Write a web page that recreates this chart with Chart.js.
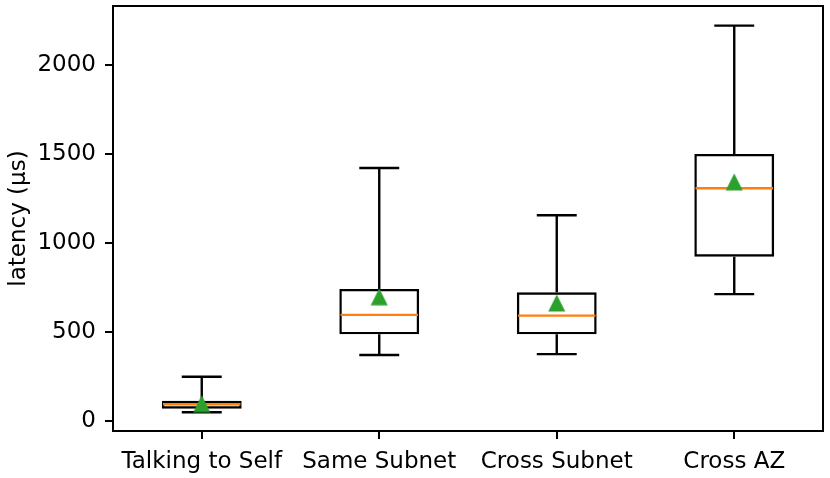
<!DOCTYPE html>
<html>
<head>
<meta charset="utf-8">
<script src="https://cdn.jsdelivr.net/npm/chart.js@4.4.1/dist/chart.umd.min.js"></script>
<style>
  body { margin: 0; background: #fff; }
  canvas { display: block; }
</style>
</head>
<body>
<canvas id="boxChart" width="830" height="478"></canvas>
<script>
// Box plot data (latency in µs)
const categories = ['Talking to Self', 'Same Subnet', 'Cross Subnet', 'Cross AZ'];
const whiskerLow = [49, 371, 376, 713];
const q1 = [69, 487, 487, 923];
const median = [94, 596, 592, 1307];
const q3 = [114, 742, 723, 1500];
const whiskerHigh = [249, 1421, 1156, 2221];
const means = [98, 698, 663, 1343];
const yTicks = [0, 500, 1000, 1500, 2000];

const LW = 2.4;
const SPINE = 2;

// triangle marker centred on its bounding box, like matplotlib '^'
const tri = document.createElement('canvas');
tri.width = 18; tri.height = 18;
const tctx = tri.getContext('2d');
tctx.fillStyle = '#2ca02c';
tctx.beginPath();
tctx.moveTo(9, 0.5);
tctx.lineTo(17.5, 17.5);
tctx.lineTo(0.5, 17.5);
tctx.closePath();
tctx.fill();

// whiskers, caps and medians drawn right after the boxes, before the means
const boxExtras = {
  id: 'boxExtras',
  afterDatasetDraw(chart, args) {
    if (args.index !== 1) return;
    const ctx = chart.ctx;
    const y = chart.scales.y;
    ctx.save();
    args.meta.data.forEach((bar, i) => {
      const x = bar.x;
      const half = bar.width / 2;
      const cap = half / 2;
      ctx.strokeStyle = '#000';
      ctx.lineWidth = LW;
      ctx.beginPath();
      ctx.moveTo(x, y.getPixelForValue(q1[i]));
      ctx.lineTo(x, y.getPixelForValue(whiskerLow[i]));
      ctx.moveTo(x, y.getPixelForValue(q3[i]));
      ctx.lineTo(x, y.getPixelForValue(whiskerHigh[i]));
      ctx.moveTo(x - cap, y.getPixelForValue(whiskerLow[i]));
      ctx.lineTo(x + cap, y.getPixelForValue(whiskerLow[i]));
      ctx.moveTo(x - cap, y.getPixelForValue(whiskerHigh[i]));
      ctx.lineTo(x + cap, y.getPixelForValue(whiskerHigh[i]));
      ctx.stroke();
      ctx.strokeStyle = '#ff7f0e';
      ctx.beginPath();
      ctx.moveTo(x - half + LW / 2, y.getPixelForValue(median[i]));
      ctx.lineTo(x + half - LW / 2, y.getPixelForValue(median[i]));
      ctx.stroke();
    });
    ctx.restore();
  },
  afterDraw(chart) {
    const { ctx, chartArea: a } = chart;
    ctx.save();
    ctx.strokeStyle = '#000';
    ctx.lineWidth = SPINE;
    ctx.beginPath();
    ctx.moveTo(a.left, a.top);
    ctx.lineTo(a.right, a.top);
    ctx.lineTo(a.right, a.bottom);
    ctx.stroke();
    ctx.restore();
  }
};

Chart.defaults.font.family = 'DejaVu Sans';
Chart.defaults.font.size = 23;
Chart.defaults.color = '#000';

const ctx = document.getElementById('boxChart').getContext('2d');
new Chart(ctx, {
  type: 'bar',
  data: {
    labels: categories,
    datasets: [
      {
        type: 'line',
        label: 'mean',
        data: means,
        showLine: false,
        pointStyle: tri,
        pointRadius: 9,
        pointHoverRadius: 9
      },
      {
        label: 'box',
        data: q1.map((v, i) => [v, q3[i]]),
        backgroundColor: 'rgba(0,0,0,0)',
        borderColor: '#000',
        borderWidth: LW,
        borderSkipped: false,
        barPercentage: 0.45,
        categoryPercentage: 1
      }
    ]
  },
  options: {
    responsive: false,
    animation: false,
    layout: { autoPadding: false, padding: { left: 0, right: 7, top: 6, bottom: 0 } },
    plugins: {
      legend: { display: false },
      tooltip: { enabled: false }
    },
    scales: {
      x: {
        offset: true,
        grid: { offset: false, drawOnChartArea: false, drawTicks: true, tickLength: 8, color: '#000', lineWidth: SPINE },
        border: { display: true, color: '#000', width: SPINE },
        ticks: { padding: 9, maxRotation: 0 },
        afterFit: (s) => { s.height = 47; s.paddingLeft = 0; s.paddingRight = 0; }
      },
      y: {
        min: -56,
        max: 2331,
        grid: { drawOnChartArea: false, drawTicks: true, tickLength: 8, color: '#000', lineWidth: SPINE },
        border: { display: true, color: '#000', width: SPINE },
        ticks: { padding: 9, callback: (v) => String(v) },
        afterBuildTicks: (axis) => { axis.ticks = yTicks.map(v => ({ value: v })); },
        title: { display: true, text: 'latency (µs)', padding: { top: 5, bottom: 0 } },
        afterFit: (s) => { s.width = 113; s.paddingTop = 0; s.paddingBottom = 0; }
      }
    }
  },
  plugins: [boxExtras]
});
</script>
</body>
</html>
